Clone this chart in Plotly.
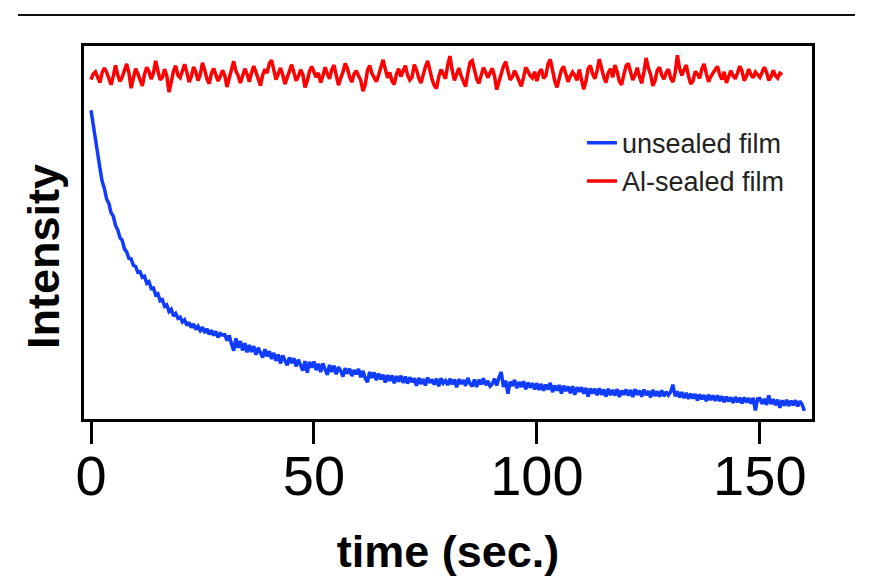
import plotly.graph_objects as go

# Al-sealed film intensity (arbitrary units), one value every 0.5 s from t = 0 to 155 s
red_vals = [
    91.0, 92.5, 93.1, 91.8, 90.2, 92.9, 94.1, 93.0, 91.4, 89.6, 91.9, 94.8, 92.2, 90.5, 91.7, 93.6, 95.2, 92.8, 88.7, 91.3,
    93.9, 92.6, 90.8, 89.3, 92.4, 94.3, 93.2, 91.1, 92.7, 96.0, 93.4, 90.9, 91.6, 93.8, 92.0, 87.6, 90.4, 93.3, 94.7, 92.1,
    91.5, 93.7, 95.1, 92.9, 90.3, 91.8, 94.4, 93.1, 90.7, 92.3, 95.5, 93.6, 91.2, 89.9, 92.6, 94.0, 92.4, 90.6, 91.9, 93.5,
    92.1, 89.0, 91.4, 94.2, 95.9, 93.3, 92.0, 90.1, 91.7, 93.9, 92.5, 90.4, 92.8, 94.6, 93.0, 91.3, 89.4, 92.2, 93.8, 92.7,
    95.4, 96.2, 93.1, 91.0, 92.6, 94.1, 92.3, 89.8, 91.5, 93.4, 95.0, 92.9, 90.7, 91.8, 93.6, 92.4, 88.9, 90.6, 93.2, 94.5,
    93.0, 91.6, 92.8, 90.2, 91.9, 94.3, 92.6, 91.2, 93.7, 94.9, 92.1, 89.5, 91.4, 93.0, 95.3, 94.0, 91.7, 90.3, 92.5, 93.4,
    92.0, 90.8, 87.9, 89.6, 93.5, 94.8, 92.7, 91.3, 90.4, 92.2, 94.6, 96.3, 93.8, 91.5, 92.9, 90.6, 89.7, 92.4, 93.9, 91.8,
    93.3, 94.7, 92.2, 90.9, 91.6, 95.0, 93.6, 91.4, 90.1, 92.7, 94.4, 96.0, 93.2, 91.0, 89.4, 88.6, 91.8, 93.7, 92.5, 91.2,
    94.9, 97.3, 93.5, 90.8, 92.4, 94.1, 92.0, 90.2, 89.1, 92.6, 95.6, 96.1, 93.4, 91.1, 90.0, 92.3, 94.2, 93.0, 91.5, 92.8,
    94.0, 91.9, 88.3, 90.5, 92.7, 94.6, 95.8, 93.1, 90.9, 91.7, 93.4, 92.1, 90.3, 89.2, 91.6, 94.3, 93.2, 92.0, 91.4, 93.1,
    90.6, 92.9, 93.8, 91.3, 92.0, 95.2, 96.4, 93.3, 90.7, 88.9, 91.5, 93.6, 94.5, 92.2, 90.4, 91.9, 93.0, 92.1, 90.8, 93.7,
    91.0, 88.4, 90.6, 93.9, 94.8, 92.5, 91.2, 93.4, 96.5, 94.0, 91.7, 90.2, 92.8, 93.9, 91.6, 94.9, 93.1, 90.5, 89.6, 92.3,
    94.7, 95.3, 92.6, 90.9, 92.1, 94.2, 91.8, 90.0, 93.0, 96.8, 94.1, 92.4, 89.3, 90.7, 93.5, 94.3, 92.2, 91.1, 92.9, 93.8,
    91.4, 90.3, 92.7, 97.5, 94.0, 92.1, 93.6, 94.9, 91.9, 89.8, 90.6, 93.2, 92.5, 91.3, 93.9, 95.2, 92.6, 90.4, 91.8, 92.9,
    93.7, 94.5, 92.3, 91.0, 93.1, 90.1, 91.6, 93.4, 92.0, 91.2, 92.8, 94.6, 93.3, 90.7, 91.9, 93.8, 92.4, 91.5, 93.0, 92.2,
    91.6, 92.9, 94.3, 93.0, 90.8, 91.7, 93.5, 92.1, 91.4, 92.7, 92.3,
]

# unsealed film intensity (arbitrary units), one value every 0.5 s from t = 0 to 160 s
blue_vals = [
    82.8, 78.6, 75.2, 70.6, 67.3, 63.7, 61.8, 59.0, 57.8, 55.3, 54.4, 51.9, 50.7, 48.6, 47.9, 45.6, 44.8, 43.1, 42.9, 41.2,
    40.9, 39.3, 39.5, 38.0, 38.3, 36.4, 36.8, 35.0, 35.1, 33.3, 33.6, 31.7, 32.0, 30.2, 30.6, 28.8, 29.4, 27.6, 28.3, 27.0,
    27.3, 26.0, 26.6, 25.1, 25.9, 24.5, 25.5, 24.0, 24.9, 23.7, 24.6, 23.1, 24.2, 22.7, 23.8, 22.4, 23.5, 21.9, 22.9, 22.5,
    22.6, 21.0, 22.4, 20.2, 18.3, 21.6, 19.1, 20.9, 18.4, 20.3, 17.9, 19.8, 18.0, 19.5, 17.2, 19.1, 17.8, 16.5, 18.7, 16.8,
    18.2, 16.1, 17.7, 15.6, 17.3, 14.9, 17.0, 15.8, 14.4, 16.5, 15.0, 16.3, 14.1, 15.9, 14.6, 13.0, 15.5, 12.4, 15.3, 13.8,
    15.4, 13.1, 14.8, 12.6, 14.9, 13.5, 11.8, 14.5, 12.6, 14.3, 12.0, 13.9, 12.9, 11.4, 13.6, 12.2, 13.5, 11.5, 13.1, 12.0,
    13.4, 11.2, 12.9, 10.9, 9.9, 12.6, 11.0, 12.5, 10.4, 12.2, 10.6, 11.9, 9.8, 11.8, 10.2, 11.7, 9.6, 11.5, 10.0, 11.6,
    9.7, 11.4, 9.5, 11.2, 9.9, 10.9, 8.9, 11.0, 9.4, 10.7, 9.0, 11.1, 9.7, 10.6, 9.2, 10.8, 8.8, 10.9, 9.6, 10.3,
    9.1, 10.8, 9.3, 10.6, 8.5, 10.7, 9.4, 10.4, 8.9, 11.0, 9.5, 8.7, 10.6, 8.6, 10.5, 9.3, 10.9, 9.1, 10.2, 8.8,
    9.4, 10.8, 9.0, 11.2, 12.6, 8.6, 10.3, 6.8, 10.0, 8.9, 10.5, 8.3, 9.9, 8.6, 10.1, 8.0, 9.8, 8.4, 9.6, 7.9,
    9.6, 7.8, 9.4, 7.6, 9.2, 7.9, 9.7, 7.2, 9.0, 7.6, 9.1, 6.8, 8.9, 7.5, 8.7, 6.9, 8.8, 6.5, 8.5, 7.3,
    8.5, 6.8, 8.3, 6.0, 8.2, 6.8, 8.1, 6.4, 8.2, 6.5, 7.9, 6.0, 8.1, 6.4, 7.8, 6.3, 8.0, 5.9, 7.6, 6.5,
    7.9, 6.3, 7.8, 5.9, 8.0, 6.5, 7.6, 6.0, 7.9, 6.4, 7.5, 5.8, 7.8, 6.2, 7.4, 6.0, 7.7, 6.1, 7.3, 6.4,
    7.3, 9.2, 6.1, 7.4, 5.8, 7.2, 5.6, 7.0, 5.4, 6.8, 5.5, 6.7, 5.0, 6.6, 5.3, 6.4, 4.8, 6.5, 5.1, 6.3,
    4.9, 6.3, 4.8, 6.1, 4.5, 6.0, 4.7, 5.8, 4.3, 5.9, 4.5, 5.7, 4.2, 5.8, 4.4, 5.6, 4.1, 5.7, 2.3, 5.4,
    5.5, 4.1, 5.4, 3.8, 6.3, 4.0, 5.3, 3.7, 5.2, 3.0, 5.0, 3.6, 5.1, 3.5, 4.9, 3.7, 5.0, 3.4, 4.8, 3.8, 2.2,
]

SAMPLE_STEP = 0.5  # seconds between samples
time_red = [i * SAMPLE_STEP for i in range(len(red_vals))]
time_blue = [i * SAMPLE_STEP for i in range(len(blue_vals))]

x_ticks = [0, 50, 100, 150]
x_tick_labels = ["0", "50", "100", "150"]

FONT = "Liberation Sans, Arial, sans-serif"

fig = go.Figure()
fig.add_trace(go.Scatter(x=time_blue, y=blue_vals, mode="lines", name="unsealed film",
                         line=dict(color="#0F3CFF", width=3.5)))
fig.add_trace(go.Scatter(x=time_red, y=red_vals, mode="lines", name="Al-sealed film",
                         line=dict(color="#FF0000", width=3.5)))

fig.update_layout(
    width=873, height=581,
    margin=dict(l=84, r=61, t=46, b=162),
    paper_bgcolor="white", plot_bgcolor="white",
    font=dict(family=FONT, color="black"),
    showlegend=True,
    legend=dict(x=0.684, y=0.805, xanchor="left", yanchor="top",
                bgcolor="rgba(0,0,0,0)", font=dict(size=27, color="#222"),
                tracegroupgap=0),
    xaxis=dict(range=[-1.57, 161.7], tickvals=x_ticks, ticktext=x_tick_labels,
               ticks="outside", ticklen=22, tickwidth=3, tickcolor="black",
               tickfont=dict(size=56, family=FONT, color="black"),
               ticklabelstandoff=-16,
               showline=True, mirror=True, linewidth=3, linecolor="black",
               showgrid=False, zeroline=False,
               title=dict(text="time (sec.)", standoff=30,
                          font=dict(size=45, family=FONT, color="black", weight="bold"))),
    yaxis=dict(range=[0, 100], showticklabels=False, ticks="",
               showline=True, mirror=True, linewidth=3, linecolor="black",
               showgrid=False, zeroline=False),
    annotations=[dict(text="Intensity", textangle=-90, xref="paper", yref="paper",
                      x=-0.055, y=0.437, xanchor="center", yanchor="middle", showarrow=False,
                      font=dict(size=45, family=FONT, color="black", weight="bold"))],
    shapes=[dict(type="line", xref="paper", yref="paper", x0=-0.0907, x1=1.059,
                 y0=1.083, y1=1.083, line=dict(color="#111", width=2))],
)

fig.write_html("out.html")
